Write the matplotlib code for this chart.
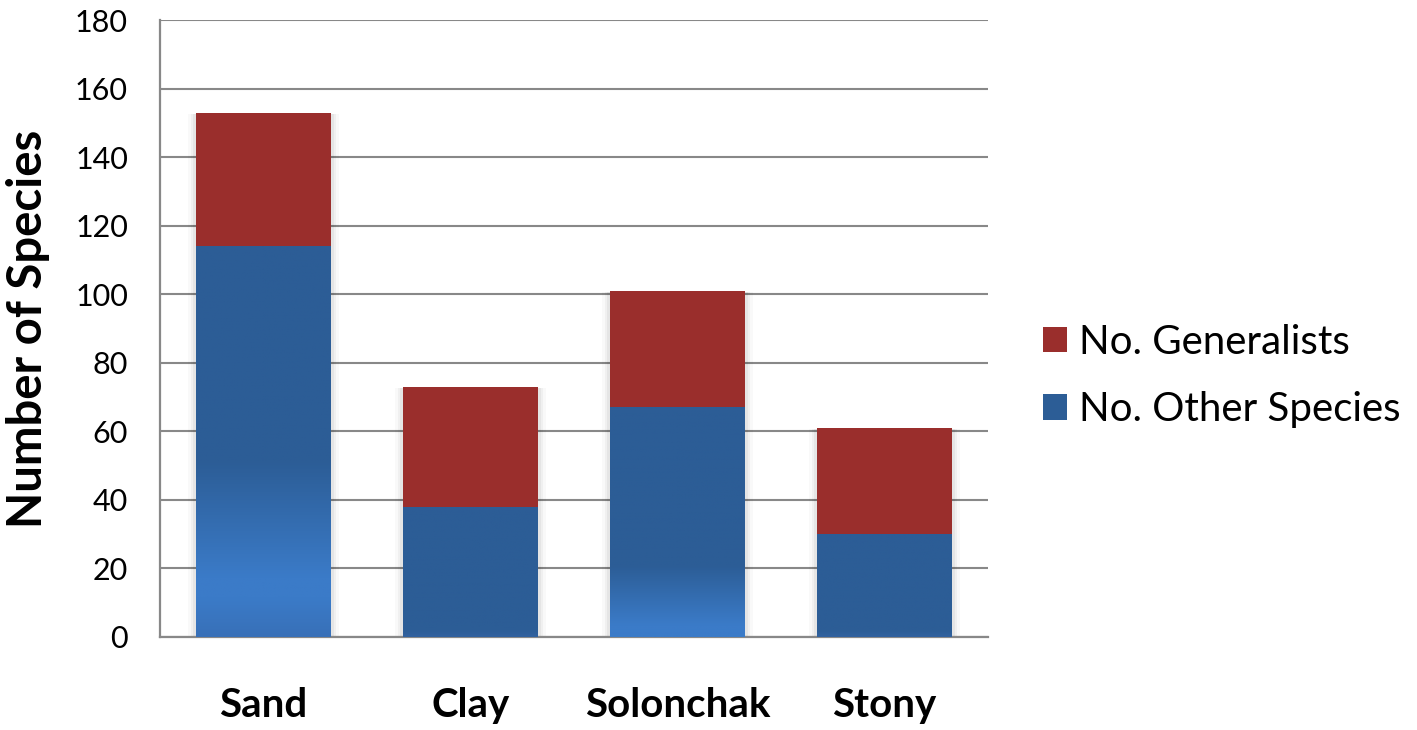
import numpy as np
import matplotlib
matplotlib.use("Agg")
import matplotlib.pyplot as plt
from matplotlib.colors import LinearSegmentedColormap
from matplotlib.patches import Rectangle

##### data ####
soils = ["Sand", "Clay", "Solonchak", "Stony"]
other_species = [114, 38, 67, 30]
generalists = [39, 35, 34, 31]

RED = "#9A2E2C"
BLUE_DARK = "#2C5D96"
BLUE_LIGHT = "#3B7BC8"
BLUE_BASE = "#3870B8"
GRID = "#888888"

# per-bar fill ramp, stops given as fraction of the blue bar height (0 = bottom)
blue_ramps = [
    [(0.0, BLUE_BASE), (0.10, BLUE_LIGHT), (0.15, BLUE_LIGHT), (0.45, BLUE_DARK), (1.0, BLUE_DARK)],
    [(0.0, "#3262A0"), (0.06, BLUE_DARK), (1.0, BLUE_DARK)],
    [(0.0, BLUE_LIGHT), (0.05, BLUE_LIGHT), (0.31, BLUE_DARK), (1.0, BLUE_DARK)],
    [(0.0, "#3262A0"), (0.06, BLUE_DARK), (1.0, BLUE_DARK)],
]

plt.rcParams['font.family'] = ['Lato', 'DejaVu Sans']

fig = plt.figure(figsize=(14.17, 7.30), dpi=100)
ax = fig.add_axes([0.1129, 0.1274, 0.5844, 0.8452])

x = np.arange(len(soils))
width = 0.652

# soft shadow on the sides of each stack
for i in x:
    top = other_species[i] + generalists[i]
    for k, a in zip([0.04, 0.026, 0.013], [0.025, 0.035, 0.045]):
        ax.add_patch(Rectangle((i - width / 2 - k, 0), width + 2 * k, top - 0.3,
                               facecolor="black", alpha=a, lw=0, zorder=2))

bars_other = ax.bar(x, other_species, width, color=BLUE_DARK, zorder=3,
                    label="No. Other Species")
bars_gen = ax.bar(x, generalists, width, bottom=other_species, color=RED,
                  zorder=3, label="No. Generalists")

# vertical gradient inside the blue segments
for bar, ramp in zip(bars_other, blue_ramps):
    cmap = LinearSegmentedColormap.from_list("ramp", ramp)
    x0, y0 = bar.get_x(), bar.get_y()
    w, h = bar.get_width(), bar.get_height()
    grad = np.linspace(0, 1, 256).reshape(-1, 1)
    im = ax.imshow(grad, cmap=cmap, origin="lower", aspect="auto",
                   extent=[x0, x0 + w, y0, y0 + h], zorder=3.5)
    im.set_clip_path(bar)

ax.set_xlim(-0.5, len(soils) - 0.5)
ax.set_ylim(0, 180)
ax.set_yticks(np.arange(0, 181, 20))
ax.set_xticks(x)
ax.set_xticklabels(soils, fontsize=29, fontweight="bold")
ax.tick_params(axis="y", length=0, pad=23, labelsize=22)
ax.tick_params(axis="x", length=0, pad=36)

ax.grid(axis="y", color=GRID, linewidth=1.5, zorder=1)
ax.set_axisbelow(True)
for side in ["top", "right"]:
    ax.spines[side].set_visible(False)
for side in ["left", "bottom"]:
    ax.spines[side].set_color(GRID)
    ax.spines[side].set_linewidth(1.6)

ax.set_ylabel("Number of Species", fontsize=34, fontweight="bold", labelpad=18)

# legend with generalists listed first
ax.legend([bars_gen, bars_other], ["No. Generalists", "No. Other Species"],
          loc="center left", bbox_to_anchor=(1.047, 0.423), frameon=False,
          fontsize=29, handlelength=0.6, handleheight=0.6, handletextpad=0.3,
          labelspacing=0.75, borderaxespad=0)

fig.savefig("out.png", dpi=100)
